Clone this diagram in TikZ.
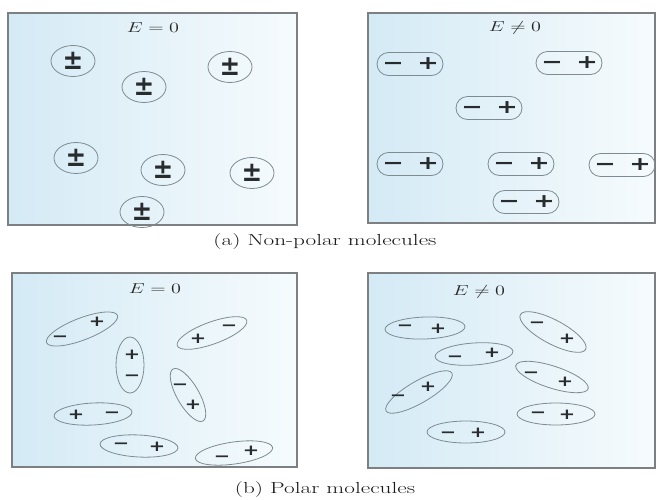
\documentclass[tikz,border=0pt]{standalone}
\usepackage{fontspec}
\usepackage{graphicx}
\newfontfamily\sgnfont{DejaVu Sans}
\definecolor{boxL}{RGB}{212,234,245}
\definecolor{boxR}{RGB}{246,251,253}
\definecolor{boxc}{RGB}{125,128,130}
\definecolor{molc}{RGB}{125,140,146}
\definecolor{sgnc}{RGB}{40,44,46}
\tikzset{
  molline/.style={draw=molc, line width=0.8pt},
  sgnbig/.style={inner sep=0pt, text=sgnc, font=\sgnfont\bfseries\fontsize{19}{19}\selectfont},
  sgnsm/.style={inner sep=0pt, text=sgnc, font=\sgnfont\bfseries\fontsize{15}{15}\selectfont},
  ttl/.style={inner sep=0pt, text=black!85, font=\fontsize{15}{15}\selectfont},
  capt/.style={inner sep=0pt, text=black!90, font=\fontsize{16}{16}\selectfont},
  panel/.style={draw=boxc, line width=1.2pt, left color=boxL, right color=boxR},
}
% non-polar circle with +/- : name, x, y
\newcommand\npcirc[3]{%
  \draw[molline] (#2,#3) ellipse [x radius=22pt, y radius=15.5pt];
  \node[sgnbig] (#1) at (#2,#3) {\scalebox{1.3}[1.45]{±}};}
% pill: name, x, y
\newcommand\pill[3]{%
  \draw[molline, rounded corners=11.5pt] (#2-33,#3-11.5) rectangle (#2+33,#3+11.5);
  \node[sgnbig] (#1m) at (#2-17,#3) {\scalebox{1.35}[1]{\vphantom{+}−}};
  \node[sgnbig] (#1p) at (#2+18,#3) {\scalebox{1.35}[1]{+}};}
% polar ellipse: x, y, angle, a, b
\newcommand\pell[5]{%
  \draw[molline, rotate around={#3:(#1,#2)}] (#1,#2) ellipse [x radius=#4pt, y radius=#5pt];}
% sign: name, x, y, sign
\newcommand\sg[4]{\node[sgnsm] (#1) at (#2,#3) {\scalebox{1.3}[1]{\vphantom{+}#4}};}
\begin{document}
\begin{tikzpicture}[x=1pt,y=-1pt]
\useasboundingbox (0,0) rectangle (657,499);
\fill[white] (0,0) rectangle (657,499);
% panels
\path[panel] (8,13) rectangle (297,225);
\path[panel] (368,13) rectangle (655,223);
\path[panel] (12,273) rectangle (297,467);
\path[panel] (368,273) rectangle (655,468);
% titles
\node[ttl] (t1) at (153,28) {\scalebox{1.4}[1]{$E=0$}};
\node[ttl] (t2) at (515,28) {\scalebox{1.4}[1]{$E\neq 0$}};
\node[ttl] (t3) at (155,289) {\scalebox{1.4}[1]{$E=0$}};
\node[ttl] (t4) at (479,292) {\scalebox{1.4}[1]{$E\neq 0$}};
% captions
\node[capt] (ca) at (325,242) {\scalebox{1.45}[1]{(a) Non-polar molecules}};
\node[capt] (cb) at (325,490) {\scalebox{1.45}[1]{(b) Polar molecules}};
% (a) E = 0
\npcirc{a1}{73}{61}
\npcirc{a2}{144}{87}
\npcirc{a3}{230}{67}
\npcirc{a4}{76}{158}
\npcirc{a5}{163}{170}
\npcirc{a6}{252}{173}
\npcirc{a7}{142}{212}
% (a) E != 0
\pill{b1}{410}{64}
\pill{b2}{569}{63}
\pill{b3}{489}{108}
\pill{b4}{410}{164}
\pill{b5}{521}{164}
\pill{b6}{622}{165}
\pill{b7}{526}{202}
% (b) E = 0
\pell{82}{329}{21}{38}{11}
\sg{c1m}{60}{337}{−}\sg{c1p}{97}{322}{+}
\pell{130}{365}{90}{28}{14}
\sg{c2p}{132}{355}{+}\sg{c2m}{132}{376}{−}
\pell{212}{333}{20}{37}{11}
\sg{c3p}{198}{339}{+}\sg{c3m}{229}{326}{−}
\pell{188}{395}{-60}{30}{11}
\sg{c4m}{180}{385}{−}\sg{c4p}{193}{405}{+}
\pell{93}{414}{3}{39}{11}
\sg{c5p}{76}{415}{+}\sg{c5m}{112}{413}{−}
\pell{139}{446}{-3}{39}{11}
\sg{c6m}{121}{444}{−}\sg{c6p}{157}{447}{+}
\pell{234}{453}{8}{39}{11}
\sg{c7m}{222}{457}{−}\sg{c7p}{251}{451}{+}
% (b) E != 0
\pell{425}{328}{2}{40}{11}
\sg{d1m}{405}{326}{−}\sg{d1p}{438}{329}{+}
\pell{553}{332}{-28}{37}{12}
\sg{d2m}{537}{323}{−}\sg{d2p}{567}{339}{+}
\pell{474}{354}{4}{39}{11}
\sg{d3m}{455}{357}{−}\sg{d3p}{492}{353}{+}
\pell{552}{377}{-18}{38}{11}
\sg{d4m}{531}{373}{−}\sg{d4p}{565}{382}{+}
\pell{419}{392}{30}{38}{11}
\sg{d5m}{398}{396}{−}\sg{d5p}{428}{387}{+}
\pell{556}{414}{0}{39}{11}
\sg{d6m}{538}{413}{−}\sg{d6p}{567}{415}{+}
\pell{466}{432}{0}{39}{11}
\sg{d7m}{448}{433}{−}\sg{d7p}{478}{433}{+}
\end{tikzpicture}
\end{document}
